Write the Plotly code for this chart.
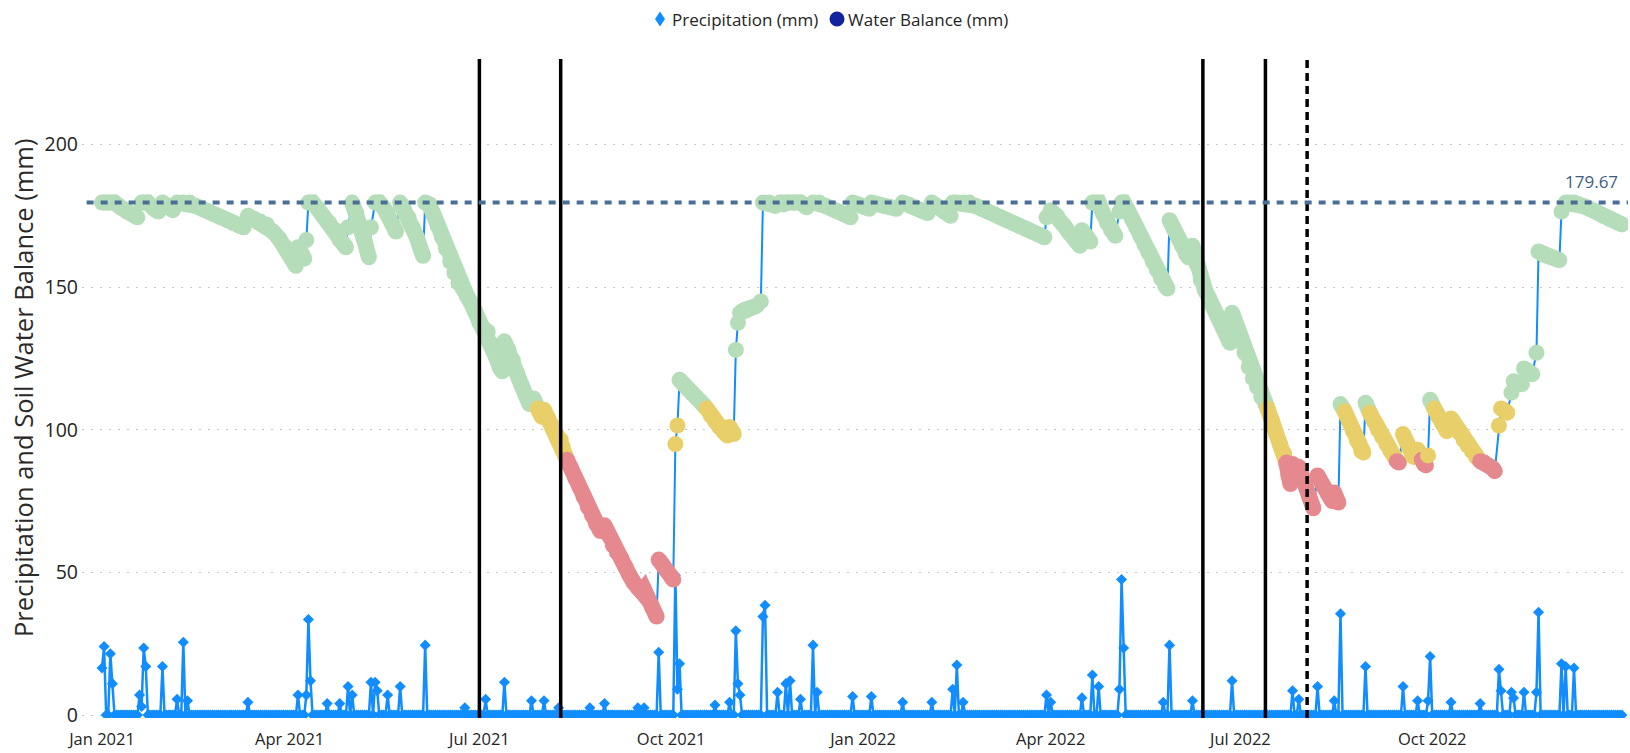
import pandas as pd
import plotly.graph_objects as go

ORIGIN = pd.Timestamp("2021-01-01")
N_DAYS = 730

# Soil water balance (mm) on sampled days, counted from 1 Jan 2021
wb_day = [0, 3, 6, 9, 12, 15, 17, 19, 22, 25, 27, 29, 32, 34, 36, 39, 42, 45, 48, 51,
          54, 57, 60, 63, 66, 68, 70, 73, 76, 79, 82, 85, 88, 91, 93, 94, 96, 97, 98, 99,
          101, 103, 106, 109, 112, 114, 116, 117, 118, 120, 122, 124, 126, 128, 129, 131,
          133, 135, 137, 139, 141, 143, 145, 147, 149, 151, 153, 154, 155, 157, 159, 161,
          163, 165, 167, 169, 171, 173, 175, 177, 179, 181, 183, 185, 187, 189, 191, 192,
          193, 195, 197, 199, 201, 203, 205, 207, 209, 211, 212, 214, 216, 218, 220, 221,
          222, 223, 225, 227, 229, 231, 233, 235, 237, 239, 241, 243, 245, 247, 249, 251,
          253, 255, 257, 259, 260, 262, 264, 266, 267, 269, 271, 273, 274, 275, 276, 277,
          279, 281, 283, 285, 287, 289, 290, 292, 294, 296, 298, 300, 301, 303, 304, 305,
          306, 308, 310, 312, 314, 316, 317, 320, 323, 325, 327, 329, 332, 335, 338, 341,
          344, 347, 350, 353, 356, 359, 360, 363, 366, 368, 369, 372, 375, 378, 381, 384,
          387, 390, 393, 396, 398, 401, 404, 407, 408, 410, 413, 416, 419, 422, 425, 428,
          431, 434, 437, 440, 443, 446, 449, 452, 453, 455, 458, 461, 464, 467, 469, 470,
          472, 474, 475, 478, 480, 482, 484, 486, 488, 489, 490, 492, 494, 496, 498, 500,
          502, 504, 506, 508, 510, 511, 512, 514, 516, 518, 520, 521, 523, 525, 527, 529,
          531, 533, 535, 537, 539, 541, 542, 544, 546, 548, 550, 552, 554, 556, 558, 559,
          561, 563, 565, 567, 568, 569, 570, 571, 573, 574, 577, 579, 581, 583, 586, 588,
          590, 591, 593, 594, 596, 598, 600, 602, 604, 605, 606, 608, 610, 612, 614, 616,
          618, 620, 621, 622, 624, 626, 628, 629, 631, 633, 634, 635, 636, 637, 639, 641,
          643, 645, 647, 649, 651, 653, 655, 657, 659, 660, 661, 663, 665, 667, 668, 670,
          671, 673, 674, 676, 677, 679, 681, 682, 684, 686, 688, 689, 691, 693, 695, 697,
          699, 700, 702, 704, 706, 708, 711, 714, 717, 720, 723, 726, 729]
wb_mm = [179.67, 179.67, 179.67, 178, 176.5, 175.5, 174.5, 179.67, 179.67, 177.5, 176.5, 179.67, 178.5, 177, 179.67, 179.67, 179.67, 178.5, 177.5, 176.5,
         175.5, 174.5, 173.5, 172.5, 171.5, 171, 175, 174, 173, 172, 169.5, 167, 164, 160.5, 157.5, 164, 161.5, 160, 166.5, 179.67,
         179.67, 178, 175, 172.5, 170, 166.5, 165, 164, 171, 179.67, 176, 171, 166, 160.5, 171, 179.67,
         179.67, 178, 176, 172.5, 169.5, 179.67, 177, 174.5, 171, 167.5, 163, 161, 179.67, 179, 175.5, 171.5,
         167.5, 163.5, 159, 155, 151.5, 149.5, 147, 144.5, 141.5, 137.5, 135.5, 134.5, 130, 125.5, 121.5, 120.5,
         131, 128, 124.5, 120, 116, 112.5, 109, 111, 107.5, 104.5, 107, 104, 101.5, 98.5, 96.5, 94,
         91.5, 89.5, 86.5, 83, 80, 76.5, 73, 70, 67, 64.5, 66.5, 63, 59.5, 57, 55, 52,
         49, 46.5, 44.5, 43, 44, 40.5, 37.5, 34.5, 54.5, 52.5, 50.5, 48.5, 47.5, 95, 101.5, 117.5,
         116, 114.5, 113, 111.5, 110, 108.5, 107.5, 105, 103, 101, 99.5, 98, 101, 98.5, 128, 137.5,
         141, 142, 142.5, 143, 143.5, 145, 179.67, 179.67, 178.5, 179.67, 179, 179.67, 179.67, 179.67, 178, 179.67,
         179.67, 178.5, 177.5, 176.5, 175.5, 174.5, 179.67, 179, 178, 177.5, 179.67, 179, 178.5, 178, 177.5, 179.67,
         179, 178, 177, 176, 179.67, 178, 176.5, 175, 179.67, 179.67, 179.67, 179.67, 178.5, 177.5, 176.5, 175.5,
         174.5, 173.5, 172.5, 171.5, 170.5, 169.5, 168.5, 167.5, 174.5, 177, 175, 172, 169, 166.5, 164.5, 170,
         168, 166, 179.67, 179.67, 176, 172.5, 170, 168, 176.5, 179.67, 179.67, 177, 174, 171, 168, 165,
         162, 159, 156, 153, 150.5, 149.5, 173.5, 170.5, 167.5, 164.5, 161.5, 160.5, 164.5, 158, 152.5, 149,
         146, 143, 140, 137, 134.5, 130.5, 141, 137, 132.5, 127, 122, 118, 115, 111.5, 109, 107.5,
         103.5, 99, 95, 91.5, 88.5, 84, 81, 88, 83.5, 87, 81.5, 76.5, 72.5, 84, 80, 77.5,
         75, 78, 74.5, 109, 106.5, 103, 99.5, 96, 92.5, 92, 109.5, 106, 103, 100, 97.5, 95,
         92.5, 90.5, 89, 88.5, 98.5, 95.5, 92.5, 90.5, 93, 89.5, 88, 87.5, 91, 110.5, 107.5, 104.5,
         102, 99.5, 104, 101.5, 99, 96.5, 94.5, 92.5, 90.5, 90, 89, 88.5, 87.5, 86.5, 85.5, 101.5,
         107.5, 106.5, 106, 113, 117, 116, 116, 121.5, 120.5, 119.5, 127, 162.5, 161.5, 161, 160.5, 160,
         159.5, 176.5, 179.67, 179.67, 179.67, 179.2, 178.3, 177.3, 176.2, 175, 174, 173, 172]

# Daily precipitation events (mm); all other days are dry
rain_day = [0, 1, 4, 5, 18, 19, 20, 21, 29, 36, 39, 41, 70, 94, 98, 99, 100, 108, 114, 118,
            120, 129, 131, 132, 137, 143, 155, 174, 184, 193, 206, 212, 219, 234, 241, 257, 260, 267, 275, 276,
            277, 294, 301, 304, 305, 306, 317, 318, 324, 328, 330, 335, 341, 343, 360, 369, 384, 398, 408, 410,
            413, 453, 455, 470, 475, 478, 488, 489, 490, 509, 512, 523, 542, 571, 574, 583, 591, 594, 606, 624,
            631, 636, 637, 647, 661, 670, 671, 676, 677, 682, 688, 689, 700, 702, 706]
rain_mm = [16.5, 24, 21.5, 11, 7, 3, 23.5, 17, 17, 5.5, 25.5, 5, 4.5, 7, 7, 33.5, 12, 4, 4, 10,
           7, 11.5, 11.5, 8.5, 7, 10, 24.5, 2.5, 5.5, 11.5, 5, 5, 2.5, 2.5, 4, 2.5, 2.5, 22, 49, 9,
           18, 3.5, 4.5, 29.5, 11, 7, 34.5, 38.5, 8, 11, 12, 5.5, 24.5, 8, 6.5, 6.5, 4.5, 4.5, 9, 17.5,
           4.5, 7, 4.5, 6, 14, 10, 9, 47.5, 23.5, 4.5, 24.5, 5, 12, 8.5, 5.5, 10, 5, 35.5, 17, 10,
           5, 5, 20.5, 4.5, 4, 16, 8.5, 8, 6, 8, 8, 36, 18, 17, 16.5]

field_capacity = 179.67
season_marks = ["2021-07-01", "2021-08-09", "2022-06-13", "2022-07-13"]
survey_mark = "2022-08-02"

tick_dates = ["2021-01-01", "2021-04-01", "2021-07-01", "2021-10-01",
              "2022-01-01", "2022-04-01", "2022-07-01", "2022-10-01"]
tick_text = ["Jan 2021", "Apr 2021", "Jul 2021", "Oct 2021",
             "Jan 2022", "Apr 2022", "Jul 2022", "Oct 2022"]
legend_labels = ["Precipitation (mm)", "Water Balance (mm)"]

FONT = "Segoe UI, Open Sans, Noto Sans, sans-serif"
BLUE = "#118DFF"
NAVY = "#12239E"
GREEN, YELLOW, RED = "#B6DDB9", "#E8CF6A", "#E5898F"
DOT = 16            # water-balance marker diameter (px)

# page geometry (px)
W, H = 1630, 753
ML, MR, MT, MB = 82, 2, 59, 35
PW, PH = W - ML - MR, H - MT - MB


def px_x(px):
    return (px - ML) / PW


def px_y(py):
    return (H - MB - py) / PH


wb_dates = list(ORIGIN + pd.to_timedelta(wb_day, unit="D"))
all_dates = ORIGIN + pd.to_timedelta(list(range(N_DAYS)), unit="D")
precip = [0.0] * N_DAYS
for d, mm in zip(rain_day, rain_mm):
    precip[d] = mm


def stress_colour(v):
    if v >= 0.6 * field_capacity:
        return GREEN
    if v >= 0.5 * field_capacity:
        return YELLOW
    return RED


wb_colours = [stress_colour(v) for v in wb_mm]

# Runs of same-coloured drawdown; any refill breaks the band so the
# thin connector shows through, as for a daily marker series.
runs = []
for i, v in enumerate(wb_mm):
    rise = i > 0 and v - wb_mm[i - 1] > 1.0
    if i == 0 or rise or wb_colours[i] != runs[-1]["c"]:
        if i > 0 and not rise:
            runs[-1]["x"].append(wb_dates[i])
            runs[-1]["y"].append(v)
        runs.append(dict(c=wb_colours[i], x=[], y=[]))
    runs[-1]["x"].append(wb_dates[i])
    runs[-1]["y"].append(v)

fig = go.Figure()

fig.add_trace(go.Scatter(
    x=all_dates, y=precip, mode="lines+markers", showlegend=False,
    line=dict(color=BLUE, width=2.5),
    marker=dict(symbol="diamond", size=8.5, color=BLUE, line=dict(width=0)),
    hoverinfo="skip"))

fig.add_trace(go.Scatter(
    x=wb_dates, y=wb_mm, mode="lines", showlegend=False,
    line=dict(color=BLUE, width=2), hoverinfo="skip"))

for r in runs:
    if len(r["x"]) > 1:
        fig.add_trace(go.Scatter(
            x=r["x"], y=r["y"], mode="lines", showlegend=False,
            line=dict(color=r["c"], width=DOT), hoverinfo="skip"))

fig.add_trace(go.Scatter(
    x=wb_dates, y=wb_mm, mode="markers", showlegend=False,
    marker=dict(size=DOT, color=wb_colours, line=dict(width=0)),
    hoverinfo="skip"))

shapes = []
for d in season_marks:
    shapes.append(dict(type="line", xref="x", yref="paper", x0=d, x1=d, y0=0, y1=1,
                       line=dict(color="black", width=3.5)))
shapes.append(dict(type="line", xref="x", yref="paper", x0=survey_mark, x1=survey_mark,
                   y0=0, y1=1, line=dict(color="black", width=3.5, dash="8px,5px")))
shapes.append(dict(type="line", xref="paper", yref="y", x0=0.003, x1=1,
                   y0=field_capacity, y1=field_capacity,
                   line=dict(color="#4A6E96", width=4, dash="7px,7px")))

# legend keys: diamond for precipitation, circle for water balance
LEG_Y = 19
shapes.append(dict(type="path", xref="paper", yref="paper",
                   xsizemode="pixel", ysizemode="pixel",
                   xanchor=px_x(660), yanchor=px_y(LEG_Y),
                   path="M 0,7.5 L 5,0 L 0,-7.5 L -5,0 Z",
                   fillcolor=BLUE, line=dict(width=0)))
shapes.append(dict(type="circle", xref="paper", yref="paper",
                   xsizemode="pixel", ysizemode="pixel",
                   xanchor=px_x(837), yanchor=px_y(LEG_Y),
                   x0=-7.5, x1=7.5, y0=-7.5, y1=7.5,
                   fillcolor=NAVY, line=dict(width=0)))

annotations = [
    dict(text=legend_labels[0], xref="paper", yref="paper", x=px_x(670), y=px_y(LEG_Y),
         xanchor="left", yanchor="middle", showarrow=False,
         font=dict(size=17, color="#252423", family=FONT)),
    dict(text=legend_labels[1], xref="paper", yref="paper", x=px_x(846), y=px_y(LEG_Y),
         xanchor="left", yanchor="middle", showarrow=False,
         font=dict(size=17, color="#252423", family=FONT)),
    dict(text=f"{field_capacity:.2f}", xref="paper", yref="y", x=1, y=field_capacity,
         xanchor="right", yanchor="middle", xshift=-8, yshift=21, showarrow=False,
         font=dict(size=17, color="#3E5D84", family=FONT)),
    dict(text="Precipitation and Soil Water Balance (mm)", xref="paper", yref="paper",
         x=px_x(23), y=px_y(388), xanchor="center", yanchor="middle",
         textangle=-90, showarrow=False,
         font=dict(size=25.5, color="#2B2A29", family=FONT)),
]

fig.update_layout(
    width=W, height=H,
    margin=dict(l=ML, r=MR, t=MT, b=MB),
    paper_bgcolor="white", plot_bgcolor="white",
    font=dict(family=FONT, color="#252423"),
    showlegend=False,
    shapes=shapes,
    annotations=annotations,
)

fig.update_xaxes(
    type="date",
    range=["2020-12-22 09:50", "2023-01-02 21:36"],
    tickvals=tick_dates, ticktext=tick_text,
    showgrid=False, zeroline=False, showline=False, ticks="",
    ticklabelstandoff=9,
    tickfont=dict(size=16.5, color="#252423", family=FONT),
)
fig.update_yaxes(
    range=[-1.05, 230],
    tickvals=[0, 50, 100, 150, 200],
    showgrid=True, gridcolor="#C8C8C8", gridwidth=1, griddash="2px,7px",
    zeroline=False, showline=False, ticks="",
    ticklabelstandoff=3,
    tickfont=dict(size=19.5, color="#252423", family=FONT),
)

fig.write_html("out.html", config={"displayModeBar": False})
